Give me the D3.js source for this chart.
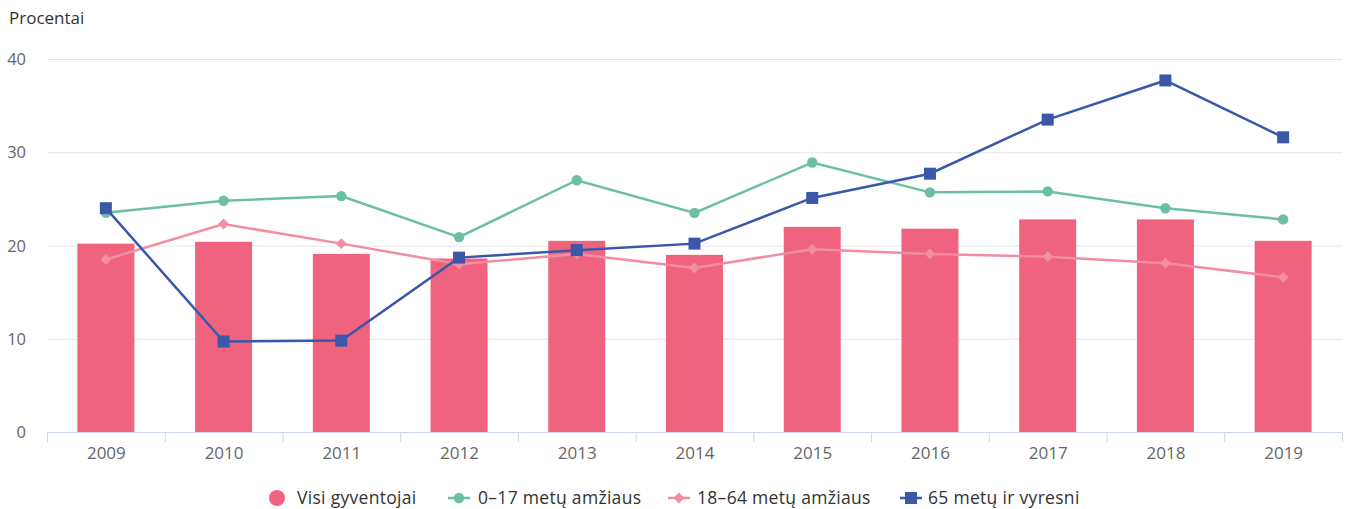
<!DOCTYPE html>
<html><head><meta charset="utf-8">
<script src="https://cdn.jsdelivr.net/npm/d3@7"></script>
<style>body{margin:0;background:#fff;font-family:"Open Sans",sans-serif;}</style>
</head><body><svg id="c" width="1346" height="509"></svg>
<script>
const years = ["2009","2010","2011","2012","2013","2014","2015","2016","2017","2018","2019"];
const visi = [20.2,20.4,19.1,18.6,20.5,19.0,22.0,21.8,22.8,22.8,20.5];
const age0_17 = [23.5,24.8,25.3,20.9,27.0,23.5,28.9,25.7,25.8,24.0,22.8];
const age18_64 = [18.5,22.3,20.2,18.0,19.1,17.6,19.6,19.1,18.8,18.1,16.6];
const age65 = [24.0,9.7,9.8,18.7,19.5,20.2,25.1,27.7,33.5,37.7,31.6];
const yTicks = [0,10,20,30,40];
const seriesNames = ["Visi gyventojai","0–17 metų amžiaus","18–64 metų amžiaus","65 metų ir vyresni"];
const colors = ["#f0637f","#6cbfa7","#f28da2","#3a57aa"];
const FF = "Open Sans";

const svg = d3.select("#c").attr("font-family",FF);
const L=47,R=1342,T=59,B=432;
const xc = d3.scalePoint().domain(years).range([L,R]).padding(0.5);
const y = d3.scaleLinear().domain([0,40]).range([B,T]);

// grid
svg.append("g").selectAll("line").data(yTicks.filter(d=>d>0)).join("line")
  .attr("x1",L).attr("x2",R).attr("y1",d=>y(d)+0.5).attr("y2",d=>y(d)+0.5)
  .attr("stroke","#e6e6e6").attr("stroke-width",1);
// y labels
svg.append("g").selectAll("text").data(yTicks).join("text")
  .attr("x",26).attr("y",d=>y(d)+6).attr("text-anchor","end")
  .attr("font-size",16.5).attr("fill","#666").text(d=>d);
svg.append("text").attr("x",9).attr("y",24).attr("font-size",17).attr("fill","#333").text("Procentai");

// bars
svg.append("g").selectAll("rect").data(visi).join("rect")
  .attr("x",(d,i)=>xc(years[i])-28.5).attr("width",57)
  .attr("y",d=>y(d)).attr("height",d=>B-y(d)).attr("fill",colors[0]);

// x axis
const xAxis = d3.axisBottom(xc).tickSize(0).tickPadding(0);
const ga = svg.append("g").attr("transform",`translate(0,${B})`).call(xAxis);
ga.select(".domain").attr("stroke","#ccd6eb").attr("d",`M${L},0.5H${R}`);
ga.selectAll("text").attr("font-size",17).attr("fill","#666").attr("font-family",FF)
  .attr("dy",null).attr("y",27);
const bw = (R-L)/years.length;
svg.append("g").selectAll("line").data(d3.range(years.length+1)).join("line")
  .attr("x1",i=>L+i*bw+0.5).attr("x2",i=>L+i*bw+0.5).attr("y1",B).attr("y2",B+10)
  .attr("stroke","#ccd6eb");

const diamond = {draw(ctx,size){const r=Math.sqrt(size/2);ctx.moveTo(0,-r);ctx.lineTo(r,0);ctx.lineTo(0,r);ctx.lineTo(-r,0);ctx.closePath();}};
const line = d3.line().x((d,i)=>xc(years[i])).y(d=>y(d));
function drawLine(data,color,sym){
  const g = svg.append("g");
  g.append("path").datum(data).attr("d",line).attr("fill","none").attr("stroke",color).attr("stroke-width",2.5);
  g.selectAll("path.m").data(data).join("path").attr("class","m")
    .attr("transform",(d,i)=>`translate(${xc(years[i])},${y(d)})`)
    .attr("d",d3.symbol().type(sym.t).size(sym.s)).attr("fill",color);
}
const syms=[null,{t:d3.symbolCircle,s:85},{t:diamond,s:60},{t:d3.symbolSquare,s:144}];
drawLine(age0_17,colors[1],syms[1]);
drawLine(age18_64,colors[2],syms[2]);
drawLine(age65,colors[3],syms[3]);

// legend
const lg = svg.append("g");
const legX=[277,459,679,911], legTx=[297,478,697,928];
lg.append("circle").attr("cx",legX[0]).attr("cy",498).attr("r",8).attr("fill",colors[0]);
for(let k=1;k<4;k++){
  lg.append("line").attr("x1",legX[k]-11).attr("x2",legX[k]+11).attr("y1",498).attr("y2",498).attr("stroke",colors[k]).attr("stroke-width",2.5);
  lg.append("path").attr("transform",`translate(${legX[k]},498)`).attr("d",d3.symbol().type(syms[k].t).size(syms[k].s)).attr("fill",colors[k]);
}
lg.selectAll("text").data(seriesNames).join("text").attr("x",(d,i)=>legTx[i]).attr("y",504)
  .attr("font-size",17.5).attr("letter-spacing",0.3).attr("fill","#333").text(d=>d);
</script></body></html>
